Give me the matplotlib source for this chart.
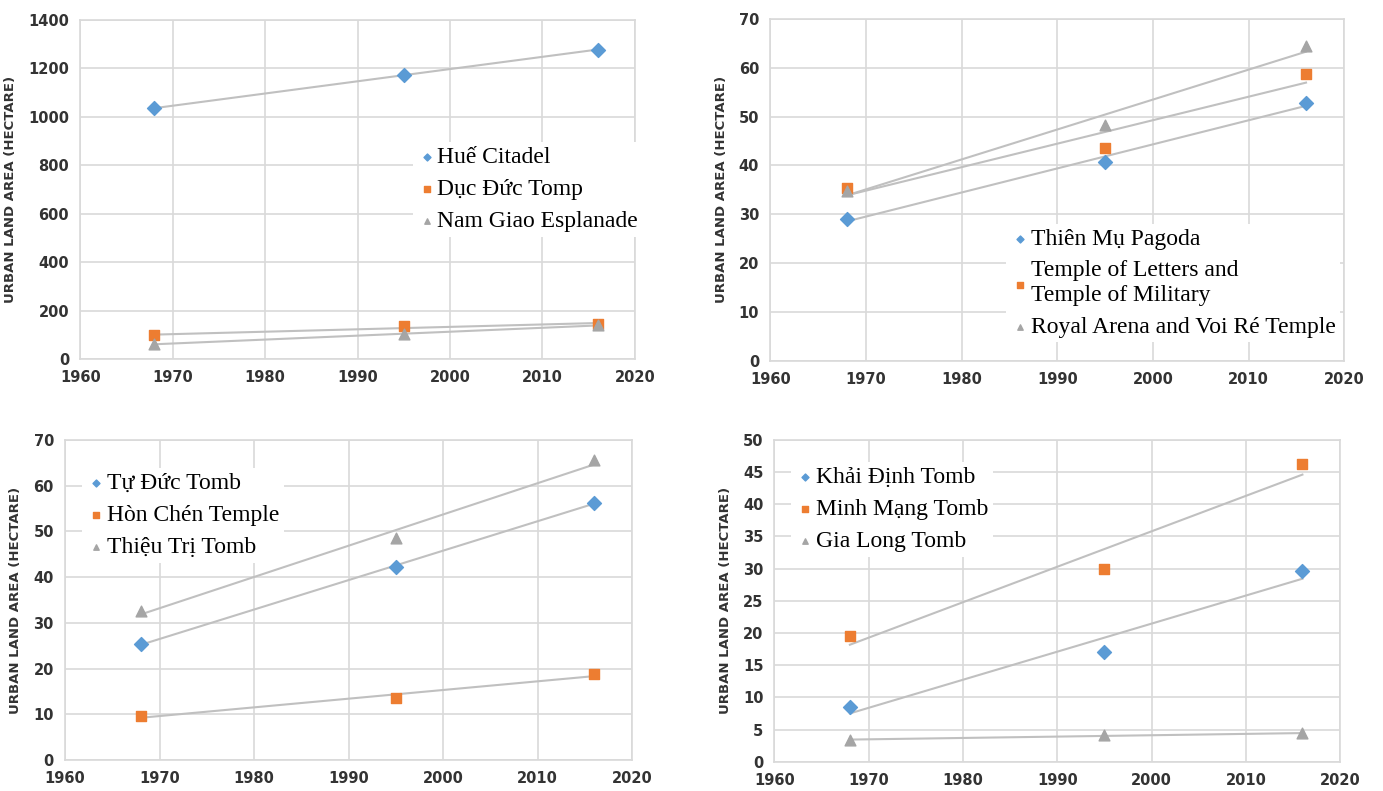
import matplotlib.pyplot as plt
import numpy as np

# survey years
years = [1968, 1995, 2016]

# panel 1
hue_citadel = [1035, 1172, 1277]
duc_duc = [98, 135, 145]
nam_giao = [62, 103, 140]
# panel 2
thien_mu = [29.0, 40.8, 52.8]
temple_letters = [35.3, 43.6, 58.8]
royal_arena = [34.8, 48.3, 64.5]
# panel 3
tu_duc = [25.3, 42.3, 56.2]
hon_chen = [9.6, 13.6, 18.8]
thieu_tri = [32.6, 48.5, 65.6]
# panel 4
khai_dinh = [8.5, 17.0, 29.7]
minh_mang = [19.5, 30.0, 46.3]
gia_long = [3.4, 4.1, 4.4]

panels = [
    (["Huế Citadel", "Dục Đức Tomp", "Nam Giao Esplanade"],
     [hue_citadel, duc_duc, nam_giao], (0, 1400, 200)),
    (["Thiên Mụ Pagoda", "Temple of Letters and\nTemple of Military",
      "Royal Arena and Voi Ré Temple"],
     [thien_mu, temple_letters, royal_arena], (0, 70, 10)),
    (["Tự Đức Tomb", "Hòn Chén Temple", "Thiệu Trị Tomb"],
     [tu_duc, hon_chen, thieu_tri], (0, 70, 10)),
    (["Khải Định Tomb", "Minh Mạng Tomb", "Gia Long Tomb"],
     [khai_dinh, minh_mang, gia_long], (0, 50, 5)),
]

# axes rectangles and legend anchors (axes coords)
rects = [[0.058, 0.546, 0.401, 0.429], [0.557, 0.544, 0.415, 0.432],
         [0.047, 0.039, 0.410, 0.405], [0.560, 0.037, 0.409, 0.407]]
anchors = [(0.578, 0.675), (0.390, 0.436), (0.009, 0.950), (0.008, 0.969)]

markers = ['D', 's', '^']
colors = ['#5b9bd5', '#ed7d31', '#a5a5a5']

fig = plt.figure(figsize=(13.83, 7.91), dpi=100)

for (names, series, (y0, y1, dy)), rect, anc in zip(panels, rects, anchors):
    ax = fig.add_axes(rect)
    x = np.array(years)
    for name, vals, m, c in zip(names, series, markers, colors):
        # linear trend line like excel
        k, b = np.polyfit(x, vals, 1)
        ax.plot(x[[0, -1]], k * x[[0, -1]] + b, color='#c0c0c0', lw=1.5, zorder=2)
        ax.scatter(x, vals, marker=m, color=c, s=60 if m != 'D' else 50,
                   zorder=3, label=name)
    ax.set_xlim(1960, 2020)
    ax.set_ylim(y0, y1)
    ax.set_xticks(range(1960, 2021, 10))
    ax.set_yticks(np.arange(y0, y1 + dy / 2, dy))
    ax.grid(True, color='#d9d9d9', lw=1.2)
    ax.set_axisbelow(True)
    for s in ax.spines.values():
        s.set_color('#d9d9d9')
        s.set_linewidth(1.2)
    ax.tick_params(length=0, labelsize=10.5, labelcolor='#333333', pad=8)
    for lab in ax.get_xticklabels() + ax.get_yticklabels():
        lab.set_fontweight('bold')
    ax.set_ylabel("URBAN LAND AREA (HECTARE)", fontsize=9.5, fontweight='bold',
                  color='#333333', labelpad=8)
    leg = ax.legend(loc='upper left', bbox_to_anchor=anc, frameon=True,
                    fancybox=False, edgecolor='none', framealpha=1,
                    prop={'family': 'Liberation Serif', 'size': 17},
                    markerscale=0.5, handletextpad=0.05, handlelength=0.8,
                    labelspacing=0.45, borderpad=0.2)

fig.savefig("out.png", dpi=100)
